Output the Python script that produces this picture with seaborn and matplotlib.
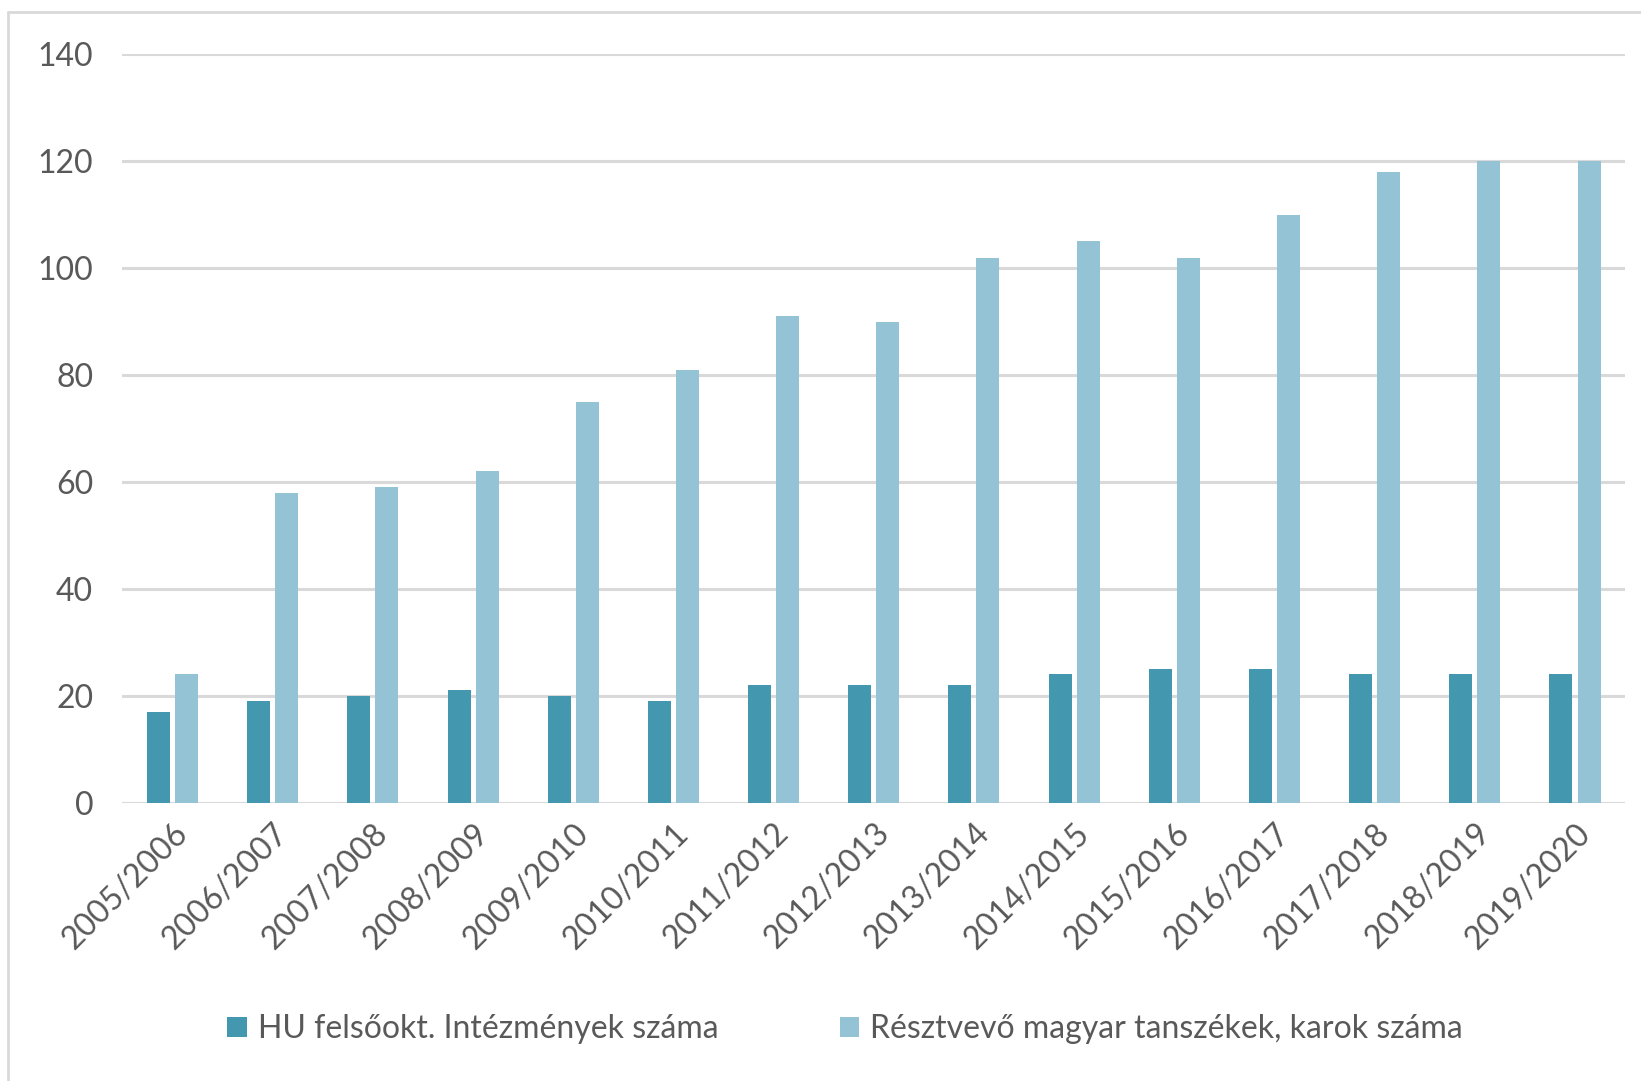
import matplotlib
matplotlib.use("Agg")
import matplotlib.pyplot as plt
import seaborn as sns
import pandas as pd
from matplotlib.lines import Line2D
from matplotlib.patches import Patch

years = ["2005/2006", "2006/2007", "2007/2008", "2008/2009", "2009/2010",
         "2010/2011", "2011/2012", "2012/2013", "2013/2014", "2014/2015",
         "2015/2016", "2016/2017", "2017/2018", "2018/2019", "2019/2020"]
series_names = ["HU felsőokt. Intézmények száma",
                "Résztvevő magyar tanszékek, karok száma"]
institutions = [17, 19, 20, 21, 20, 19, 22, 22, 22, 24, 25, 25, 24, 24, 24]
departments = [24, 58, 59, 62, 75, 81, 91, 90, 102, 105, 102, 110, 118, 120, 120]
colors = ["#4398AF", "#93C3D4"]

df = pd.DataFrame({
    "year": years * 2,
    "series": [series_names[0]] * len(years) + [series_names[1]] * len(years),
    "value": institutions + departments,
})

sns.set_theme(style="white")
plt.rcParams["font.family"] = ["Lato", "DejaVu Sans"]

FS = 23

fig = plt.figure(figsize=(16.41, 10.81), dpi=100)
ax = fig.add_axes([0.0746, 0.2574, 0.9157, 0.6923])

sns.barplot(data=df, x="year", y="value", hue="series", order=years,
            hue_order=series_names, palette=colors, width=0.56, gap=0.18,
            saturation=1, edgecolor="none", ax=ax, legend=False, zorder=3)

ax.set_ylim(0, 140)
ax.set_yticks(range(0, 141, 20))
ax.set_xlim(-0.5, len(years) - 0.5)
ax.yaxis.grid(True, color="#D9D9D9", linewidth=2.2, zorder=0)
ax.set_axisbelow(True)
for s in ax.spines.values():
    s.set_visible(False)
ax.set_xlabel("")
ax.set_ylabel("")
ax.tick_params(axis="y", length=0, pad=21, labelsize=FS, labelcolor="#595959")
ax.tick_params(axis="x", length=0, pad=11, labelsize=FS, labelcolor="#595959")
plt.setp(ax.get_xticklabels(), rotation=45, ha="right", rotation_mode="anchor")

# outer chart frame
fig.add_artist(Line2D([0.0051, 0.0051], [0.0, 0.9885], color="#D9D9D9",
                      linewidth=2, transform=fig.transFigure))
fig.add_artist(Line2D([0.0051, 1.0], [0.9885, 0.9885], color="#D9D9D9",
                      linewidth=2, transform=fig.transFigure))

handles = [Patch(facecolor=c, edgecolor="none") for c in colors]
fig.legend(handles, series_names, loc="center", bbox_to_anchor=(0.515, 0.048),
           ncol=2, frameon=False, fontsize=FS, labelcolor="#595959",
           handlelength=0.6, handleheight=0.6, handletextpad=0.35,
           columnspacing=3.8)

fig.savefig("out.png", dpi=100)
